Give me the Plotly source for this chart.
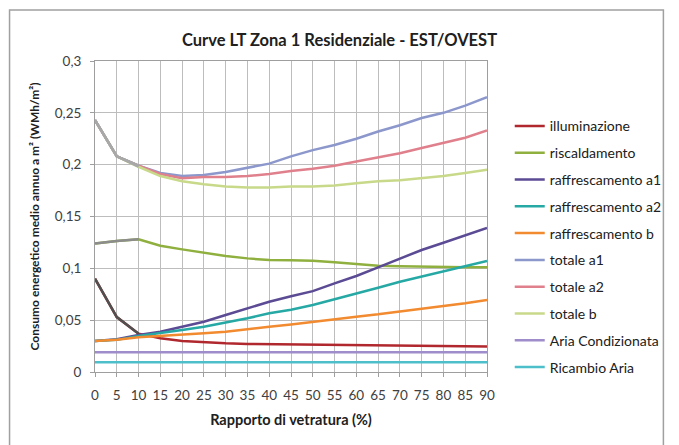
import plotly.graph_objects as go

x_vals = [0, 5, 10, 15, 20, 25, 30, 35, 40, 45, 50, 55, 60, 65, 70, 75, 80, 85, 90]

illuminazione = [0.090, 0.053, 0.037, 0.0325, 0.030, 0.0286, 0.0277, 0.0271, 0.0268, 0.0265,
                 0.0262, 0.0260, 0.0258, 0.0256, 0.0253, 0.0251, 0.0249, 0.0247, 0.0245]
riscaldamento = [0.124, 0.1264, 0.128, 0.1218, 0.1183, 0.115, 0.1119, 0.1096, 0.108, 0.1078,
                 0.1074, 0.1058, 0.1042, 0.1026, 0.102, 0.1016, 0.101, 0.101, 0.101]
raff_a1 = [0.030, 0.0315, 0.0357, 0.0389, 0.0437, 0.0485, 0.055, 0.0614, 0.0678, 0.073,
           0.078, 0.0855, 0.0926, 0.101, 0.1097, 0.1177, 0.1247, 0.132, 0.139]
raff_a2 = [0.030, 0.031, 0.0347, 0.0373, 0.0405, 0.0437, 0.0476, 0.0518, 0.0566, 0.060,
           0.0646, 0.070, 0.0759, 0.0813, 0.087, 0.092, 0.0974, 0.1022, 0.107]
raff_b = [0.030, 0.031, 0.0335, 0.0347, 0.0357, 0.0373, 0.0389, 0.0415, 0.0437, 0.0458,
          0.0485, 0.0508, 0.0534, 0.0556, 0.0582, 0.0605, 0.063, 0.0663, 0.0695]
totale_a1 = [0.243, 0.208, 0.199, 0.192, 0.189, 0.190, 0.193, 0.197, 0.201, 0.208,
             0.214, 0.219, 0.225, 0.232, 0.238, 0.245, 0.250, 0.257, 0.265]
totale_a2 = [0.243, 0.208, 0.199, 0.191, 0.187, 0.188, 0.188, 0.189, 0.191, 0.194,
             0.196, 0.199, 0.203, 0.207, 0.211, 0.216, 0.221, 0.226, 0.233]
totale_b = [0.243, 0.208, 0.198, 0.189, 0.184, 0.181, 0.179, 0.178, 0.178, 0.179,
            0.179, 0.180, 0.182, 0.184, 0.185, 0.187, 0.189, 0.192, 0.195]
aria_condizionata = [0.019] * len(x_vals)
ricambio_aria = [0.0095] * len(x_vals)

series = [
    ("illuminazione", illuminazione, "#B0282E"),
    ("riscaldamento", riscaldamento, "#8FB03E"),
    ("raffrescamento a1", raff_a1, "#5B4A94"),
    ("raffrescamento a2", raff_a2, "#26A9A5"),
    ("raffrescamento b", raff_b, "#F28A30"),
    ("totale a1", totale_a1, "#8C97CC"),
    ("totale a2", totale_a2, "#E0808C"),
    ("totale b", totale_b, "#C8D98A"),
    ("Aria Condizionata", aria_condizionata, "#9E8CCB"),
    ("Ricambio Aria", ricambio_aria, "#4DBFCB"),
]

# grey start segments as seen in the reference (first three points)
grey_start = [
    (totale_a1, "#A8A8A8"), (totale_a2, "#A8A8A8"), (totale_b, "#A8A8A8"),
    (riscaldamento, "#8C8C8C"), (illuminazione, "#505050"),
]

fig = go.Figure()
for i, (name, vals, col) in enumerate(series):
    fig.add_trace(go.Scatter(x=x_vals, y=vals, name=name, mode="lines",
                             line=dict(color=col, width=2.5),
                             legendgroup=f"g{i}"))
for vals, col in grey_start:
    fig.add_trace(go.Scatter(x=x_vals[:3], y=vals[:3], mode="lines",
                             line=dict(color=col, width=2.5), showlegend=False,
                             hoverinfo="skip"))

font_fam = "Lato, 'Open Sans', sans-serif"
fig.update_layout(
    width=679, height=445,
    margin=dict(l=95, r=181, t=61, b=73),
    paper_bgcolor="white", plot_bgcolor="white",
    separators=",.",
    font=dict(family=font_fam, size=13.5, color="#404040"),
    title=dict(text="<b>Curve LT Zona 1 Residenziale - EST/OVEST</b>",
               x=0.5, xref="container", xanchor="center",
               y=1 - 40 / 445, yref="container", yanchor="middle",
               font=dict(size=16.5, color="#202020", family=font_fam)),
    showlegend=True,
    legend=dict(x=1.058, y=0.8415, xanchor="left", yanchor="top",
                traceorder="grouped", tracegroupgap=5.6,
                font=dict(size=14, color="#202020", family=font_fam),
                bgcolor="rgba(0,0,0,0)", itemwidth=30),
    shapes=[dict(type="rect", xref="paper", yref="paper",
                 x0=-0.218, x1=1.45, y0=-0.26, y1=1.164,
                 line=dict(color="#A0A0A0", width=1.5), layer="below")],
)
fig.update_xaxes(range=[0, 90], tickmode="array", tickvals=x_vals,
                 showgrid=True, gridcolor="#BDBDBD", gridwidth=1,
                 showline=True, linecolor="#9E9E9E", mirror=True,
                 ticks="outside", ticklen=4, tickcolor="#9E9E9E",
                 ticklabelstandoff=7,
                 zeroline=False,
                 title=dict(text="<b>Rapporto di vetratura (%)</b>", standoff=12,
                            font=dict(size=14.5, color="#202020")))
fig.update_yaxes(range=[0, 0.3], dtick=0.05, tick0=0,
                 showgrid=True, gridcolor="#BDBDBD", gridwidth=1,
                 showline=True, linecolor="#9E9E9E", mirror=True,
                 ticks="outside", ticklen=4, tickcolor="#9E9E9E",
                 ticklabelstandoff=6,
                 zeroline=False,
                 title=dict(text="<b>Consumo energetico medio annuo a m² (WMh/m²)</b>",
                            standoff=12, font=dict(size=12, color="#202020")))

fig.write_html("out.html",
               config={"displayModeBar": False},
               post_script="document.body.style.margin='0';document.body.style.overflow='hidden';")
